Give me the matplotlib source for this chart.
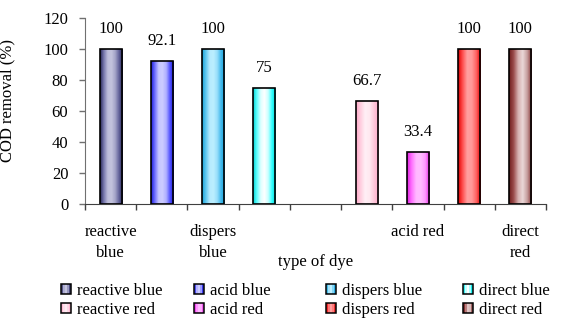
import numpy as np
import matplotlib
matplotlib.use("Agg")
import matplotlib.pyplot as plt
from matplotlib.colors import LinearSegmentedColormap
from matplotlib.patches import Rectangle
from matplotlib.legend_handler import HandlerBase

plt.rcParams['font.family'] = ['Liberation Serif', 'DejaVu Serif']

# ---- data -------------------------------------------------------------
dyes = ['reactive blue', 'acid blue', 'dispers blue', 'direct blue',
        'reactive red', 'acid red', 'dispers red', 'direct red']
cod_removal = [100, 92.1, 100, 75, 66.7, 33.4, 100, 100]
# category slot of every dye on the x axis (slot 4 stays empty)
dye_slot = [0, 1, 2, 3, 5, 6, 7, 8]
category_labels = ['reactive\nblue', '', 'dispers\nblue', '', '', '',
                   'acid red', '', 'direct\nred']
y_ticks = [0, 20, 40, 60, 80, 100, 120]

# cylinder-like shading for each dye (edge -> centre -> edge)
shades = [
    ['#262656', '#7878ae', '#bcbcda', '#c4c4de', '#a4a4c8', '#62629a', '#262656'],
    ['#1a1ad8', '#7070ff', '#c6c6ff', '#ccccff', '#b0b0ff', '#5050ff', '#1a1ad8'],
    ['#1aa4d8', '#60c8f0', '#b6eafe', '#bcefff', '#98defa', '#40b8ec', '#1aa4d8'],
    ['#00d4d4', '#60ffff', '#dcffff', '#ffffff', '#c8ffff', '#30ffff', '#00d4d4'],
    ['#ffa8c8', '#ffcfe0', '#fff0f6', '#ffe8f0', '#ffc6da', '#ffa8c8'],
    ['#e01ee0', '#ff70ff', '#ffb8ff', '#ffbcff', '#ff98ff', '#e01ee0'],
    ['#e00000', '#ff5050', '#ffa0a0', '#ff9a9a', '#ff6464', '#e00000'],
    ['#701c1c', '#9c4c4c', '#d6b0b0', '#ead8d8', '#c69e9e', '#843030'],
]

cmaps = [LinearSegmentedColormap.from_list(f'shade{i}', s) for i, s in enumerate(shades)]

# ---- figure -------------------------------------------------------------
fig = plt.figure(figsize=(5.65, 3.21), dpi=100)
ax = fig.add_axes([85 / 565, (321 - 204.3) / 321, (546 - 85) / 565, (204.3 - 17.9) / 321])

x = np.array(dye_slot) + 0.5
bars = ax.bar(x, cod_removal, width=0.43, facecolor='none', edgecolor='black',
              linewidth=1.2, zorder=3)

grad = np.linspace(0, 1, 128)[np.newaxis, :]
for patch, cmap in zip(bars.patches, cmaps):
    x0, w, h = patch.get_x(), patch.get_width(), patch.get_height()
    im = ax.imshow(grad, cmap=cmap, extent=[x0, x0 + w, 0, h], aspect='auto',
                   interpolation='bilinear', zorder=2)
    im.set_clip_path(patch)

for patch, val in zip(bars.patches, cod_removal):
    ax.annotate(f'{val:g}', (patch.get_x() + patch.get_width() / 2, patch.get_height()),
                xytext=(0, 14.5), textcoords='offset points', ha='center', va='center',
                fontsize=12)

ax.set_xlim(0, 9)
ax.set_ylim(0, 120)

for side in ('top', 'right'):
    ax.spines[side].set_visible(False)
ax.spines['left'].set_color('#707070')
ax.spines['bottom'].set_color('#404040')

ax.set_yticks(y_ticks)
ax.tick_params(axis='y', direction='out', length=4, width=1, color='#707070',
               labelsize=12, pad=8)

ax.set_xticks(np.arange(0, 10))
ax.set_xticklabels([])
ax.tick_params(axis='x', which='major', direction='out', length=4, width=1,
               color='#404040')
ax.set_xticks(np.arange(9) + 0.5, minor=True)
ax.set_xticklabels(category_labels, minor=True, fontsize=12, linespacing=1.45,
                   va='top')
ax.tick_params(axis='x', which='minor', length=0, pad=14)

ax.set_ylabel('COD removal (%)', fontsize=12)
ax.yaxis.set_label_coords(-0.152, 0.555)
fig.text(315.5 / 565, 1 - 262 / 321, 'type of dye', ha='center', va='center', fontsize=12)


# ---- legend -------------------------------------------------------------
class ShadedSquare(HandlerBase):
    def __init__(self, cmap):
        super().__init__()
        self.cmap = cmap

    def create_artists(self, legend, orig_handle, xdescent, ydescent, width, height,
                       fontsize, trans):
        side = min(width, height)
        x0 = -xdescent + (width - side) / 2
        y0 = -ydescent + (height - side) / 2
        arts = []
        n = 5
        for k in range(n):
            r = Rectangle((x0 + side * k / n, y0), side / n, side,
                          facecolor=self.cmap((k + 0.5) / n), edgecolor='none',
                          transform=trans)
            arts.append(r)
        arts.append(Rectangle((x0, y0), side, side, facecolor='none',
                              edgecolor='black', linewidth=1.1, transform=trans))
        return arts


col_left = [61, 194, 326, 463]
for c in range(4):
    idx = [c, c + 4]
    handles = [Rectangle((0, 0), 1, 1) for _ in idx]
    hmap = {h: ShadedSquare(cmaps[i]) for h, i in zip(handles, idx)}
    fig.legend(handles, [dyes[i] for i in idx], handler_map=hmap,
               loc='upper left', bbox_to_anchor=(col_left[c] / 565, 1 - 283 / 321),
               frameon=False, fontsize=12, borderpad=0, borderaxespad=0,
               handlelength=0.6, handleheight=0.6, handletextpad=0.35,
               labelspacing=0.2)

fig.savefig('out.png', dpi=100)
